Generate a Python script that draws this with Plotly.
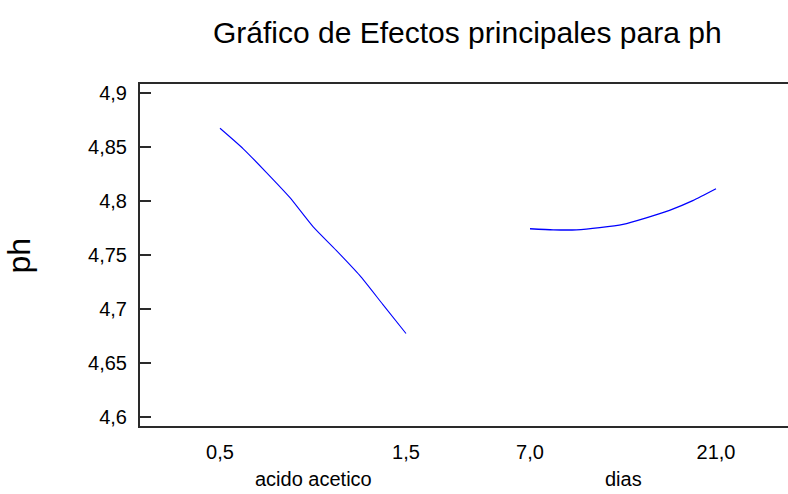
import plotly.graph_objects as go

# ---- data ----
acido_levels = [0.5, 0.625, 0.75, 0.875, 1.0, 1.125, 1.25, 1.375, 1.5]
acido_ph = [4.867, 4.848, 4.826, 4.803, 4.776, 4.754, 4.731, 4.704, 4.677]
dias_levels = [7.0, 8.75, 10.5, 12.25, 14.0, 15.75, 17.5, 19.25, 21.0]
dias_ph = [4.774, 4.773, 4.773, 4.775, 4.778, 4.784, 4.791, 4.800, 4.811]

acido_ticks = [0.5, 1.5]
dias_ticks = [7.0, 21.0]
y_ticks = [4.6, 4.65, 4.7, 4.75, 4.8, 4.85, 4.9]

title_text = "Gráfico de Efectos principales para ph"
factor_names = ["acido acetico", "dias"]
y_label = "ph"

AXC = "#2a2a2a"
LINE = "#0000ff"
FONT = "Liberation Sans, Arial, sans-serif"

fig = go.Figure()
fig.add_trace(go.Scatter(x=acido_levels, y=acido_ph, mode="lines",
                         line=dict(color=LINE, width=1.1, shape="spline", smoothing=0.6),
                         xaxis="x", yaxis="y", showlegend=False, hoverinfo="skip"))
fig.add_trace(go.Scatter(x=dias_levels, y=dias_ph, mode="lines",
                         line=dict(color=LINE, width=1.3, shape="spline", smoothing=0.6),
                         xaxis="x2", yaxis="y", showlegend=False, hoverinfo="skip"))

xcommon = dict(showline=True, linecolor=AXC, linewidth=2, mirror=True,
               ticks="", showgrid=False, zeroline=False, tickformat=".1f",
               tickfont=dict(family=FONT, size=20, color="#000"),
               ticklabelstandoff=7, anchor="y")

fig.update_layout(
    width=788, height=494,
    margin=dict(l=140, r=0, t=84, b=68),
    paper_bgcolor="white", plot_bgcolor="white",
    separators=", ",
    xaxis=dict(domain=[0, 0.5], range=[0.0699, 1.8118], tickvals=acido_ticks, **xcommon),
    xaxis2=dict(domain=[0.5, 1], range=[2.032, 26.419], tickvals=dias_ticks, **xcommon),
    yaxis=dict(range=[4.5914, 4.908], tickvals=y_ticks, ticks="inside", ticklen=11,
               tickwidth=1.5, tickcolor=AXC, showline=True, linecolor=AXC, linewidth=2,
               showgrid=False, zeroline=False, ticklabelstandoff=7,
               tickfont=dict(family=FONT, size=20, color="#000")),
    yaxis2=dict(range=[4.5914, 4.908], tickvals=y_ticks, overlaying="y", side="right",
                anchor="free", position=1, ticks="inside", ticklen=4, tickwidth=1.5,
                tickcolor=AXC, showticklabels=False, showline=False, showgrid=False,
                zeroline=False),
    showlegend=False,
)

fig.add_annotation(text=title_text, xref="paper", yref="paper", x=0.505, y=1,
                   yshift=52, xanchor="center", yanchor="middle", showarrow=False,
                   font=dict(family=FONT, size=30, color="#000"))
fig.add_annotation(text=y_label, xref="paper", yref="paper", x=-0.186, y=0.5,
                   textangle=-90, xanchor="center", yanchor="middle", showarrow=False,
                   font=dict(family=FONT, size=32, color="#000"))
fig.add_annotation(text=factor_names[0], xref="x", yref="paper",
                   x=(acido_levels[0] + acido_levels[-1]) / 2, y=0, yshift=-53,
                   xanchor="center", yanchor="middle", showarrow=False,
                   font=dict(family=FONT, size=20, color="#000"))
fig.add_annotation(text=factor_names[1], xref="x2", yref="paper",
                   x=(dias_levels[0] + dias_levels[-1]) / 2, y=0, yshift=-53,
                   xanchor="center", yanchor="middle", showarrow=False,
                   font=dict(family=FONT, size=20, color="#000"))

fig.write_html("out.html", config={"displayModeBar": False},
               post_script="document.body.style.margin='0';document.body.style.overflow='hidden';")
